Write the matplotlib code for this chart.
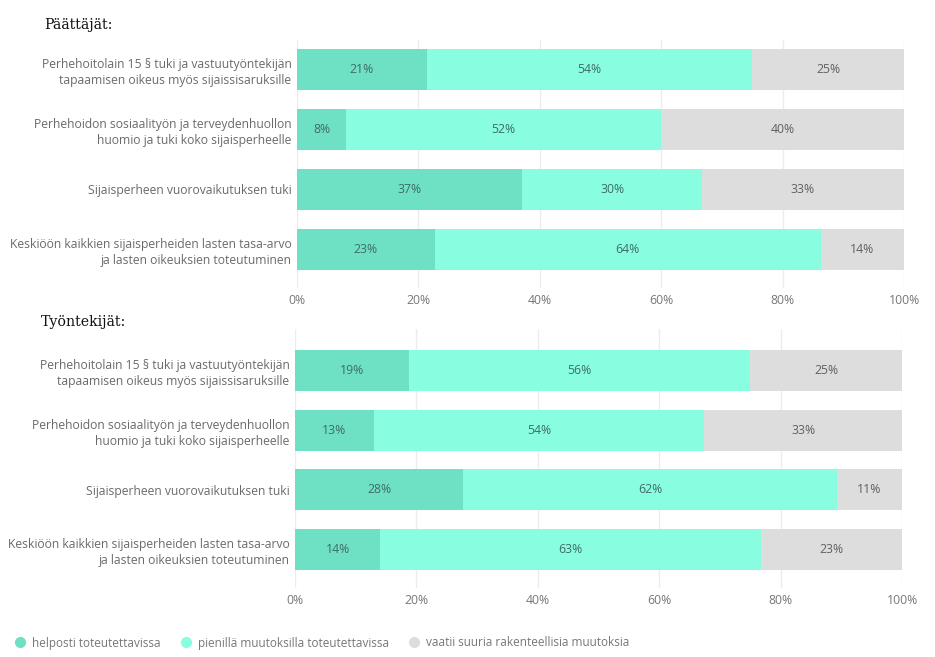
import matplotlib.pyplot as plt
from matplotlib.lines import Line2D
import numpy as np

plt.rcParams['font.family'] = ['Open Sans', 'DejaVu Sans']

categories = [
    "Perhehoitolain 15 § tuki ja vastuutyöntekijän\ntapaamisen oikeus myös sijaissisaruksille",
    "Perhehoidon sosiaalityön ja terveydenhuollon\nhuomio ja tuki koko sijaisperheelle",
    "Sijaisperheen vuorovaikutuksen tuki",
    "Keskiöön kaikkien sijaisperheiden lasten tasa-arvo\nja lasten oikeuksien toteutuminen",
]
series_names = ["helposti toteutettavissa", "pienillä muutoksilla toteutettavissa",
                "vaatii suuria rakenteellisia muutoksia"]

# prosentit, luettu kuvasta
paattajat = {
    "helposti": [21.4, 8.1, 37.1, 22.7],
    "pienilla": [53.6, 51.9, 29.6, 63.6],
    "suuria":   [25.0, 40.0, 33.3, 13.7],
}
tyontekijat = {
    "helposti": [18.8, 13.0, 27.7, 14.0],
    "pienilla": [56.2, 54.4, 61.6, 62.8],
    "suuria":   [25.0, 32.6, 10.7, 23.2],
}
xticks = [0, 20, 40, 60, 80, 100]

colors = ['#6ee0c3', '#88fde0', '#dddddd']
text_colors = ['#3f6e62', '#3f6e62', '#606060']

fig = plt.figure(figsize=(9.35, 6.57), dpi=100)
H = 657
W = 935


def draw_panel(ax, data, ytop):
    y = np.arange(len(categories))
    left = np.zeros(len(categories))
    for i, key in enumerate(["helposti", "pienilla", "suuria"]):
        vals = np.array(data[key])
        ax.barh(y, vals, left=left, height=0.69, color=colors[i], zorder=2)
        for yy, l, v in zip(y, left, vals):
            ax.text(l + v / 2, yy, f"{round(v)}%", ha='center', va='center',
                    fontsize=8.8, color=text_colors[i], zorder=3)
        left = left + vals
    ax.set_xlim(0, 100)
    ax.set_ylim(3.65, ytop)
    ax.set_yticks(y)
    ax.set_yticklabels(categories, fontsize=8.7, color='#6a6a6a', linespacing=1.3)
    ax.set_xticks(xticks)
    ax.set_xticklabels([f"{t}%" for t in xticks], fontsize=8.8, color='#777777')
    ax.tick_params(length=0, pad=4)
    for s in ax.spines.values():
        s.set_visible(False)
    ax.grid(axis='x', color='#ececec', linewidth=1, zorder=0)
    ax.set_axisbelow(True)


ax1 = fig.add_axes([297 / W, 1 - 288 / H, 607 / W, 248 / H])
draw_panel(ax1, paattajat, -0.5)
ax2 = fig.add_axes([295 / W, 1 - 588 / H, 607 / W, 259 / H])
draw_panel(ax2, tyontekijat, -0.7)

fig.text(44 / W, 1 - 25 / H, "Päättäjät:", fontsize=10.2, family='DejaVu Serif',
         color='#111111', va='center', ha='left')
fig.text(41 / W, 1 - 322 / H, "Työntekijät:", fontsize=10.2, family='DejaVu Serif',
         color='#111111', va='center', ha='left')

handles = [Line2D([], [], marker='o', linestyle='none', markersize=7,
                  markerfacecolor=c, markeredgecolor=c) for c in colors]
fig.legend(handles, series_names, loc='center left', bbox_to_anchor=(2 / W, 1 - 643 / H),
           ncol=3, frameon=False, fontsize=8.5, labelcolor='#777777',
           handletextpad=0.45, columnspacing=1.5, handlelength=1.2)

fig.savefig('out.png', dpi=100)
